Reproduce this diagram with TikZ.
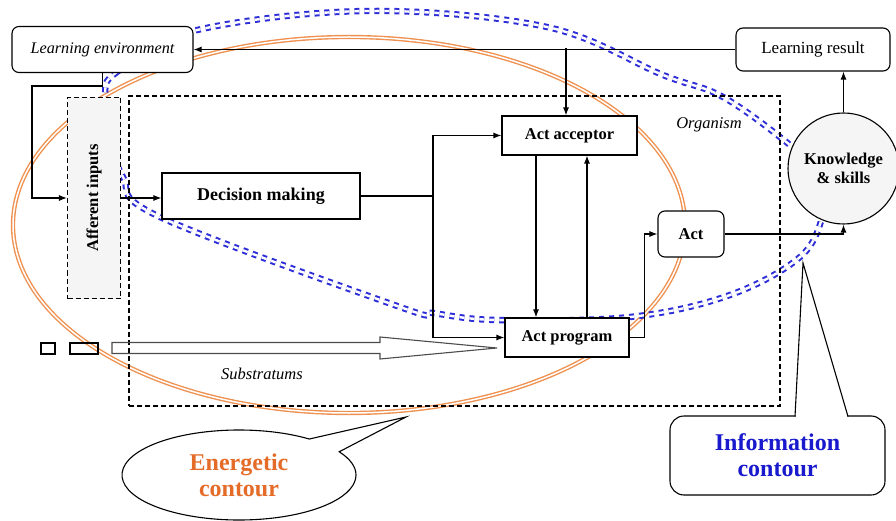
\documentclass[tikz,border=0pt]{standalone}
\usepackage{fontspec}
\setmainfont{Liberation Serif}
\usetikzlibrary{calc,arrows.meta,shapes.callouts}

\definecolor{EnergyLine}{RGB}{238,145,80}
\definecolor{EnergyText}{RGB}{228,108,40}
\definecolor{InfoLine}{RGB}{45,45,215}
\definecolor{InfoText}{RGB}{25,25,205}

\begin{document}
\begin{tikzpicture}[x=1pt,y=-1pt,>={Latex[length=8pt,width=6pt]},line width=1.1pt]
	\tikzset{BoxStyle/.style = {draw, fill=white, inner sep=1pt, font=\fontsize{16.5}{19}\selectfont\bfseries},
		RoundStyle/.style = {BoxStyle, rounded corners=7pt},
		DashStyle/.style = {draw, dash pattern=on 5pt off 3pt},
		ItalStyle/.style = {inner sep=1pt, font=\fontsize{16.5}{19}\selectfont\itshape},
		CalloutStyle/.style = {draw, fill=white, inner sep=1pt, align=center, font=\fontsize{24}{26}\selectfont\bfseries}}
	\useasboundingbox (0,0) rectangle (896,521);
	% contours first, the boxes cover them
	\draw[EnergyLine, line width=1.4pt, double=white, double distance=1.5pt] (349,225) ellipse [x radius=336, y radius=188];
	\draw[InfoLine, line width=2pt, double=white, double distance=2.4pt, dash pattern=on 5pt off 5pt]
		plot[smooth cycle, tension=0.6] coordinates {(105,95) (117,72) (193,31) (367,11) (547,27) (663,75) (723,97) (790,145) (826,180) (823,215) (800,257) (730,295) (630,317) (497,320) (433,313) (400,307) (160,217) (123,177) (110,135)};
	\node[DashStyle, minimum width=651pt, minimum height=310pt] (org) at (454.5,251) {};
	\node[ItalStyle] (orglabel) at (709,125) {Organism};
	\node[ItalStyle] (sublabel) at (262,374) {Substratums};
	\node[RoundStyle, font=\fontsize{16.2}{19}\selectfont\itshape, minimum width=181pt, minimum height=46pt] (lenv) at (102.5,49.5) {Learning environment};
	\node[RoundStyle, font=\fontsize{17}{19}\selectfont, minimum width=154pt, minimum height=43pt] (lres) at (813,49.5) {Learning result};
	\node[DashStyle, fill=gray!8, minimum width=53pt, minimum height=201pt] (aff) at (94,198) {};
	\node[rotate=90, font=\fontsize{16.5}{19}\selectfont\bfseries] (afftext) at (aff.center) {Afferent inputs};
	\node[BoxStyle, font=\fontsize{18}{20}\selectfont\bfseries, minimum width=198pt, minimum height=46pt] (dec) at (261,196) {Decision making};
	\node[BoxStyle, minimum width=135pt, minimum height=39pt] (acc) at (569.5,135.5) {Act acceptor};
	\node[BoxStyle, minimum width=124pt, minimum height=39pt] (prog) at (567,337.5) {Act program};
	\node[RoundStyle, minimum width=66pt, minimum height=46pt] (act) at (691,234) {Act};
	\node[circle, draw, fill=gray!8, inner sep=1pt, minimum size=111pt, align=center, font=\fontsize{16.5}{19}\selectfont\bfseries] (know) at (843.5,168.5) {Knowledge\\\& skills};
	\node[draw, minimum width=14pt, minimum height=11pt, inner sep=0pt] (sq1) at (48,348.5) {};
	\node[draw, minimum width=28pt, minimum height=11pt, inner sep=0pt] (sq2) at (84,348.5) {};
	\draw[black!70] (112,342.5) -- (380,342.5) -- (380,337) -- (497,348) -- (380,359) -- (380,353.5) -- (112,353.5) -- cycle;
	% connectors
	\coordinate (bend) at (32,86);
	\coordinate (split) at (433,196);
	\draw[->] (lres.west) -- (lenv.east);
	\draw[->] ($(acc.north)+(-3.5,0)$) ++(0,-67.5) -- ($(acc.north)+(-3.5,0)$);
	\draw[->] (lenv.south) |- (bend) |- (aff.west);
	\draw[->] (aff.east) -- (aff.east -| dec.west);
	\draw[line width=2.2pt] (dec.east) -- (split);
	\draw[->] (split) |- (acc.west);
	\draw[->] (split) |- (prog.west);
	\draw[->] ($(acc.south)+(-33.5,0)$) -- ($(prog.north)+(-31,0)$);
	\draw[->] ($(prog.north)+(20,0)$) -- ($(acc.south)+(17.5,0)$);
	\draw[->] (prog.east) -- ++(15,0) |- (act.west);
	\draw[->] (act.east) -| (know.south);
	\draw[->] (know.north) -- (know.north |- lres.south);
	% callouts
	\node[CalloutStyle, ellipse callout, text=EnergyText, minimum width=234pt, minimum height=90pt,
		callout absolute pointer={(406,417)}, callout pointer arc=22] (energy) at (239,475) {Energetic\\contour};
	\node[CalloutStyle, rounded corners=14pt, text=InfoText, minimum width=215pt, minimum height=79pt] (info) at (777.5,455.5) {Information\\contour};
	\coordinate (infotip) at (803,263);
	\fill[white] (795.5,417.5) -- (infotip) -- (847.5,417.5) -- cycle;
	\draw (795,416.5) -- (infotip) -- (848,416.5);
\end{tikzpicture}
\end{document}
